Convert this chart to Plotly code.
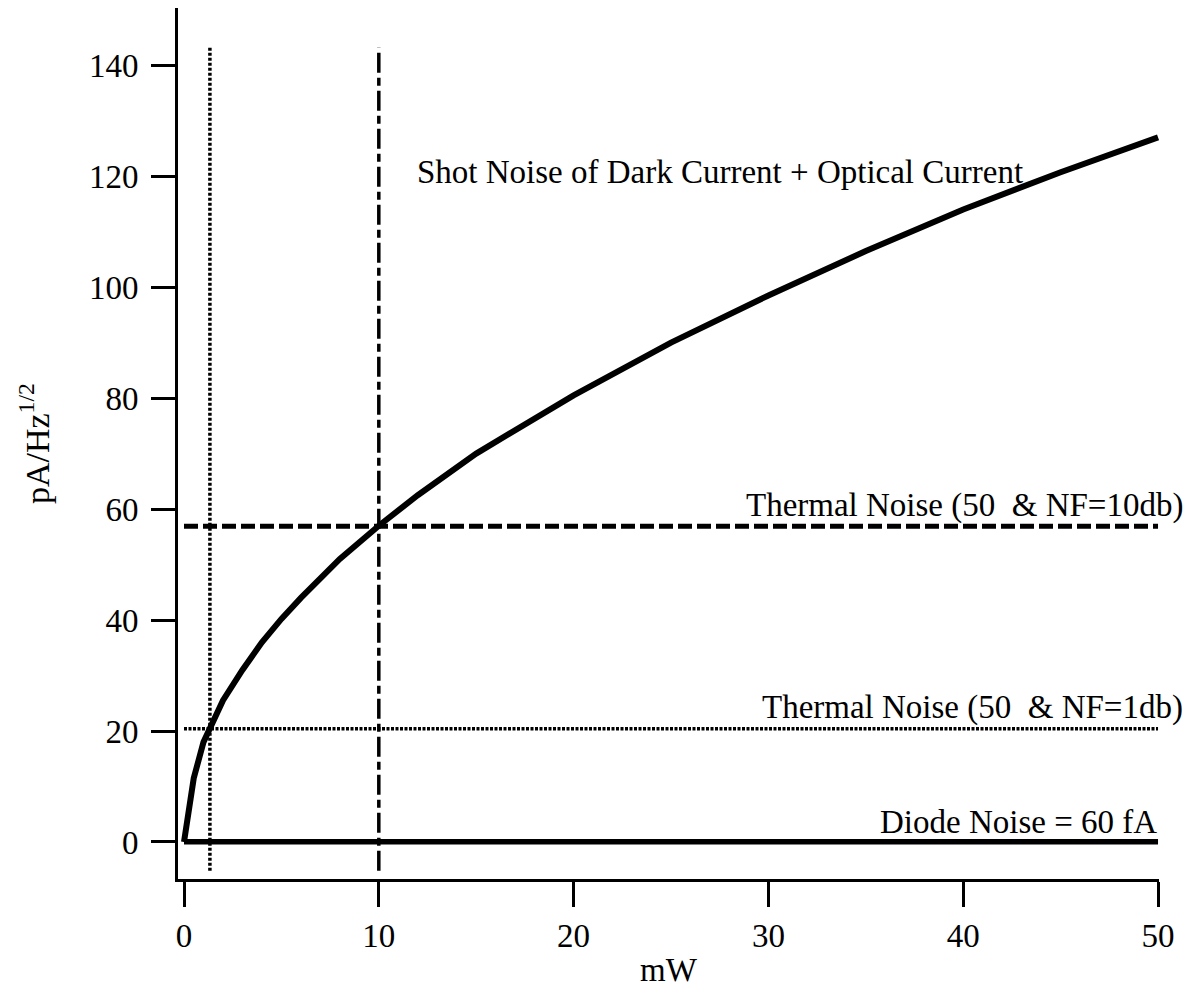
import plotly.graph_objects as go

# Optical power (mW) and shot-noise current density (pA/Hz^1/2)
power_mw = [0, 0.5, 1, 1.5, 2, 3, 4, 5, 6, 8, 10, 12, 15, 20, 25, 30, 35, 40, 45, 50]
shot_noise = [0, 11.5, 18, 22, 25.5, 31, 36, 40.2, 44, 51, 57, 62.5, 70, 80.5, 90, 98.5, 106.5, 114, 120.7, 127]

# Constant noise floors
floor_x = [0, 50]
thermal_10db = [56.9, 56.9]
thermal_1db = [20.4, 20.4]
diode_noise = [0.06, 0.06]

# Crossover markers (vertical guides)
cross_1db_x = [1.33, 1.33]
cross_10db_x = [10, 10]
guide_y = [-5.2, 143.2]

x_ticks = [0, 10, 20, 30, 40, 50]
y_ticks = [0, 20, 40, 60, 80, 100, 120, 140]

SERIF = "Liberation Serif, Times New Roman, serif"
INK = "black"
LABEL_SIZE = 33

fig = go.Figure()

fig.add_trace(go.Scatter(x=cross_1db_x, y=guide_y, mode="lines",
                         line=dict(color=INK, width=3.5, dash="3px,2px")))
fig.add_trace(go.Scatter(x=cross_10db_x, y=guide_y, mode="lines",
                         line=dict(color=INK, width=3.5, dash="20px,5px,8px,5px")))
fig.add_trace(go.Scatter(x=floor_x, y=thermal_10db, mode="lines",
                         line=dict(color=INK, width=5, dash="14px,5px")))
fig.add_trace(go.Scatter(x=floor_x, y=thermal_1db, mode="lines",
                         line=dict(color=INK, width=3.5, dash="3px,1.5px")))
fig.add_trace(go.Scatter(x=floor_x, y=diode_noise, mode="lines",
                         line=dict(color=INK, width=5.5)))
fig.add_trace(go.Scatter(x=power_mw, y=shot_noise, mode="lines",
                         line=dict(color=INK, width=6)))

# Curve labels; the two thermal labels run past the right end of the x axis,
# so they are placed in paper coordinates.
labels = [
    dict(x=11.86, y=120.7, xref="x", text="Shot Noise of Dark Current + Optical Current"),
    dict(x=1.0265, y=60.7, xref="paper", text="Thermal Noise (50\u00a0\u00a0& NF=10db)"),
    dict(x=1.0265, y=24.3, xref="paper", text="Thermal Noise (50\u00a0\u00a0& NF=1db)"),
    dict(x=50.05, y=3.6, xref="x", text="Diode Noise = 60 fA"),
]
for i, lab in enumerate(labels):
    fig.add_annotation(x=lab["x"], y=lab["y"], xref=lab["xref"], yref="y",
                       text=lab["text"], xanchor="left" if i == 0 else "right",
                       yanchor="middle", showarrow=False,
                       font=dict(family=SERIF, size=LABEL_SIZE, color=INK))

fig.update_layout(
    width=1202, height=988,
    margin=dict(l=178, r=43, t=8, b=109),
    paper_bgcolor="white", plot_bgcolor="white",
    showlegend=False,
    font=dict(family=SERIF, color=INK),
    xaxis=dict(range=[-0.308, 50.05], tickvals=x_ticks, showgrid=False, zeroline=False,
               automargin=False,
               showline=True, linecolor=INK, linewidth=3,
               ticks="outside", ticklen=25, tickwidth=3, tickcolor=INK,
               tickfont=dict(family=SERIF, size=33, color=INK),
               title=dict(text="mW", font=dict(family=SERIF, size=33, color=INK), standoff=14)),
    yaxis=dict(range=[-6.67, 150.3], tickvals=y_ticks, showgrid=False, zeroline=False,
               automargin=False,
               showline=True, linecolor=INK, linewidth=3,
               ticks="outside", ticklen=24, tickwidth=3, tickcolor=INK,
               ticklabelstandoff=6,
               tickfont=dict(family=SERIF, size=33, color=INK),
               title=dict(text="pA/Hz<sup>1/2</sup>", font=dict(family=SERIF, size=34, color=INK),
                          standoff=30)),
)

fig.write_html("out.html")
